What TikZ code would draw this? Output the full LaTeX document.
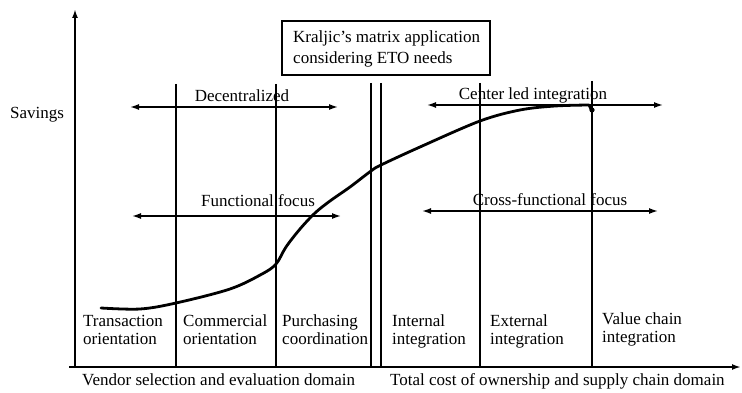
\documentclass[tikz,border=0pt]{standalone}
\usepackage{fontspec}
\setmainfont{Liberation Serif}
\usetikzlibrary{arrows.meta}
\begin{document}
\begin{tikzpicture}[x=1pt,y=-1pt,
  txt/.style={inner sep=0pt,anchor=base west,align=left,font=\fontsize{17}{17.5}\selectfont},
  axis/.style={line width=1.8pt,-{Latex[length=9pt,width=6pt]}},
  divider/.style={line width=1.4pt},
  span/.style={line width=1.5pt,{Latex[length=9pt,width=6pt]}-{Latex[length=9pt,width=6pt]}},
  curve/.style={line width=2.8pt,line cap=round,line join=round}]
\useasboundingbox (0,0) rectangle (742,393);
\fill[white] (0,0) rectangle (742,393);

% axes
\coordinate (origin) at (75,367);
\coordinate (ytop) at (75,9);
\coordinate (xstart) at (69,367);
\coordinate (xend) at (741,367);
\draw[axis] (origin) -- (ytop);
\draw[axis] (xstart) -- (xend);

% stage dividers
\foreach \name/\xx/\yy in {d1/176/84, d2/276/84, d3/371/83, d4/381/83, d5/480/83, d6/592/81}{
  \coordinate (\name top) at (\xx,\yy);
  \coordinate (\name bot) at (\xx,367);
  \draw[divider] (\name top) -- (\name bot);
}

% title box
\node[draw,line width=1.6pt,minimum width=208pt,minimum height=54pt,inner sep=0pt,anchor=north west] (box) at (281,20) {};
\node[txt] (boxl1) at (293,43) {Kraljic’s matrix application};
\node[txt] (boxl2) at (293,64) {considering ETO needs};

% y-axis label
\node[txt] (savings) at (10,119) {Savings};

% scope arrows
\coordinate (decL) at (130,107);
\coordinate (decR) at (338,107);
\draw[span] (decL) -- (decR);
\node[txt,anchor=base] (dec) at (242,102) {Decentralized};

\coordinate (cliL) at (427,105);
\coordinate (cliR) at (663,105);
\draw[span] (cliL) -- (cliR);
\node[txt,anchor=base] (cli) at (533,100) {Center led integration};

\coordinate (ffL) at (132,216);
\coordinate (ffR) at (341,216);
\draw[span] (ffL) -- (ffR);
\node[txt,anchor=base] (ff) at (258,207) {Functional focus};

\coordinate (cfL) at (422,211);
\coordinate (cfR) at (658,211);
\draw[span] (cfL) -- (cfR);
\node[txt,anchor=base] (cf) at (550,205) {Cross-functional focus};

% savings curve
\draw[curve] plot[smooth,tension=0.55] coordinates {
  (101,308) (140,309) (176,303) (230,289) (262,274) (276,264) (286,247)
  (300,229) (315,213) (330,201) (350,187) (371,171) (381,165) (420,147)
  (480,121) (520,110) (555,106) (589,105)} -- (592,111);
\fill (592,110) circle (2.6pt);

% stage labels (base anchor sits on the second line)
\node[txt] (s1) at (83,344) {Transaction\\orientation};
\node[txt] (s2) at (183,344) {Commercial\\orientation};
\node[txt] (s3) at (282,344) {Purchasing\\coordination};
\node[txt] (s4) at (392,344) {Internal\\integration};
\node[txt] (s5) at (490,344) {External\\integration};
\node[txt] (s6) at (602,342) {Value chain\\integration};

% domain captions
\node[txt] (dom1) at (82,385) {Vendor selection and evaluation domain};
\node[txt] (dom2) at (390,385) {Total cost of ownership and supply chain domain};
\end{tikzpicture}
\end{document}
